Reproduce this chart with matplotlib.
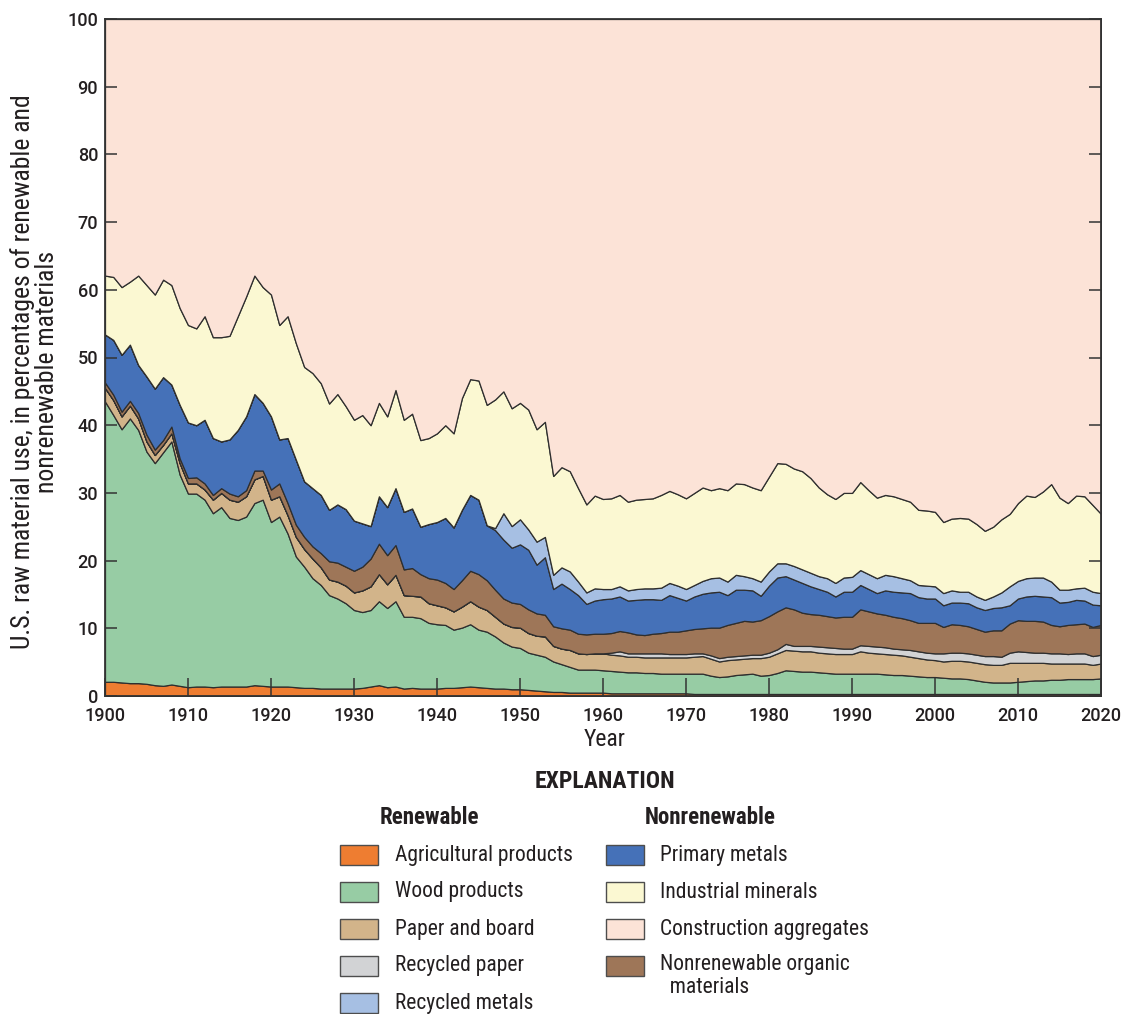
import numpy as np
import matplotlib
matplotlib.use("Agg")
import matplotlib.pyplot as plt
from matplotlib.patches import Rectangle

plt.rcParams['font.family'] = ['Roboto Condensed', 'Liberation Sans', 'DejaVu Sans']

years = np.arange(1900, 2021)

# shares of total raw material use, percent
agricultural = [
    2.1, 2.1, 2.0, 1.9, 1.9, 1.8, 1.6, 1.5, 1.7, 1.5, 1.3, 1.4, 1.4, 1.3, 1.4, 1.4, 1.4, 1.4, 1.6, 1.5,
    1.4, 1.4, 1.4, 1.3, 1.2, 1.2, 1.1, 1.1, 1.1, 1.1, 1.1, 1.2, 1.4, 1.6, 1.3, 1.4, 1.1, 1.2, 1.1, 1.1,
    1.1, 1.2, 1.2, 1.3, 1.4, 1.3, 1.2, 1.1, 1.1, 1.0, 1.0, 0.9, 0.8, 0.7, 0.6, 0.6, 0.5, 0.5, 0.5, 0.5,
    0.5, 0.4, 0.4, 0.4, 0.4, 0.4, 0.4, 0.4, 0.4, 0.4, 0.4, 0.3, 0.3, 0.3, 0.3, 0.3, 0.3, 0.3, 0.3, 0.3,
    0.3, 0.3, 0.3, 0.3, 0.3, 0.3, 0.3, 0.3, 0.3, 0.3, 0.3, 0.3, 0.3, 0.3, 0.3, 0.3, 0.3, 0.3, 0.3, 0.3,
    0.3, 0.3, 0.3, 0.3, 0.3, 0.3, 0.3, 0.3, 0.3, 0.3, 0.3, 0.3, 0.3, 0.3, 0.3, 0.3, 0.3, 0.3, 0.3, 0.3,
    0.3]
wood = [
    41.4, 39.4, 37.4, 39.1, 37.4, 34.3, 32.8, 34.5, 35.9, 31.2, 28.6, 28.5, 27.6, 25.7, 26.5, 24.9, 24.6, 25.1, 26.9, 27.5,
    24.3, 25.1, 22.6, 19.3, 17.9, 16.2, 15.3, 13.8, 13.3, 12.6, 11.6, 11.2, 11.3, 12.4, 11.7, 12.6, 10.6, 10.5, 10.4, 9.7,
    9.5, 9.3, 8.6, 8.8, 9.2, 8.5, 8.3, 7.7, 6.8, 6.3, 6.1, 5.5, 5.3, 5.1, 4.5, 4.1, 3.8, 3.4, 3.4, 3.4,
    3.3, 3.3, 3.2, 3.1, 3.1, 3.0, 3.0, 2.9, 2.9, 2.9, 2.9, 3.0, 3.0, 2.7, 2.5, 2.6, 2.8, 2.9, 3.0, 2.7,
    2.8, 3.1, 3.5, 3.4, 3.3, 3.3, 3.2, 3.1, 3.0, 3.0, 3.0, 3.0, 3.0, 3.0, 2.9, 2.8, 2.8, 2.7, 2.6, 2.5,
    2.5, 2.4, 2.3, 2.3, 2.2, 2.0, 1.8, 1.7, 1.7, 1.7, 1.8, 1.9, 2.0, 2.0, 2.1, 2.1, 2.2, 2.2, 2.2, 2.2,
    2.3]
paper_board = [
    2.0, 2.2, 1.9, 1.9, 1.7, 1.5, 1.2, 1.1, 1.2, 1.7, 1.5, 1.5, 1.5, 2.0, 2.1, 2.7, 2.7, 3.0, 3.5, 3.5,
    3.3, 3.0, 2.7, 2.9, 2.6, 2.9, 2.6, 2.3, 2.5, 2.6, 2.6, 3.2, 3.5, 4.0, 3.5, 3.9, 3.2, 3.1, 3.2, 2.9,
    2.8, 2.6, 2.7, 3.1, 3.4, 3.4, 3.2, 2.9, 2.8, 2.9, 3.0, 2.9, 2.8, 3.0, 2.3, 2.3, 2.5, 2.4, 2.3, 2.4,
    2.5, 2.4, 2.4, 2.3, 2.3, 2.3, 2.3, 2.4, 2.4, 2.4, 2.4, 2.5, 2.6, 2.5, 2.3, 2.4, 2.3, 2.3, 2.3, 2.6,
    2.7, 2.9, 3.0, 3.0, 3.0, 3.0, 2.9, 2.9, 2.9, 2.9, 2.9, 3.3, 3.1, 3.0, 3.0, 3.0, 2.9, 2.8, 2.7, 2.6,
    2.5, 2.4, 2.6, 2.6, 2.6, 2.6, 2.6, 2.6, 2.6, 2.9, 2.8, 2.7, 2.6, 2.6, 2.4, 2.4, 2.3, 2.3, 2.3, 2.1,
    2.2]
recycled_paper = [0.0] * 61 + [
    0.3, 0.6, 0.5, 0.5, 0.6, 0.6, 0.6, 0.5, 0.5, 0.5, 0.5, 0.4, 0.5, 0.5, 0.5, 0.5, 0.5, 0.5, 0.5,
    0.6, 0.6, 0.9, 0.7, 0.8, 0.8, 0.9, 0.9, 0.9, 0.8, 0.8, 0.9, 1.0, 1.0, 1.0, 0.9, 0.9, 1.0, 1.0, 1.0,
    1.0, 1.2, 1.2, 1.2, 1.2, 1.2, 1.2, 1.3, 1.2, 1.5, 1.7, 1.6, 1.5, 1.5, 1.5, 1.5, 1.4, 1.5, 1.5, 1.3,
    1.3]
nonrenewable_organic = [
    0.8, 0.8, 0.7, 0.7, 0.8, 1.0, 0.8, 0.7, 1.0, 0.7, 0.8, 0.9, 0.9, 0.7, 0.7, 0.9, 0.8, 0.9, 1.3, 0.8,
    1.5, 1.9, 1.8, 1.8, 1.8, 1.8, 2.1, 2.7, 2.8, 2.8, 3.2, 3.5, 4.1, 4.5, 4.3, 4.4, 3.8, 4.1, 3.3, 3.7,
    3.8, 3.6, 3.3, 3.9, 4.5, 4.8, 4.4, 4.0, 3.7, 3.6, 3.5, 3.5, 3.3, 3.2, 2.9, 3.0, 3.0, 2.9, 2.9, 2.9,
    2.9, 2.9, 3.0, 3.1, 2.8, 2.7, 2.9, 3.0, 3.3, 3.3, 3.5, 3.6, 3.7, 4.1, 4.5, 4.7, 4.9, 5.1, 4.9, 5.1,
    5.4, 5.6, 5.4, 5.4, 4.9, 4.7, 4.7, 4.6, 4.5, 4.7, 4.7, 5.3, 5.1, 4.9, 4.8, 4.7, 4.6, 4.4, 4.2, 4.4,
    4.5, 3.9, 4.2, 4.1, 4.0, 3.8, 3.6, 3.8, 3.9, 4.3, 4.6, 4.6, 4.7, 4.6, 4.2, 4.0, 4.3, 4.3, 4.4, 4.3,
    4.4]
primary_metals = [
    7.1, 8.1, 8.4, 8.3, 7.1, 8.6, 9.0, 9.3, 6.2, 7.9, 8.2, 7.7, 9.4, 8.4, 6.9, 8.0, 9.8, 10.9, 11.3, 10.0,
    10.8, 6.5, 9.6, 9.6, 8.2, 8.6, 8.6, 7.6, 8.6, 8.5, 7.4, 6.4, 4.8, 7.0, 7.1, 8.4, 8.5, 8.8, 7.0, 8.0,
    8.5, 9.6, 9.1, 10.4, 11.2, 11.0, 8.1, 8.8, 8.7, 8.1, 8.8, 8.8, 7.2, 8.5, 5.5, 6.6, 6.0, 5.7, 4.5, 4.9,
    5.1, 5.1, 5.1, 4.7, 5.1, 5.3, 5.1, 4.9, 5.4, 5.0, 4.4, 4.8, 5.1, 5.2, 5.3, 4.4, 4.9, 4.6, 4.6, 3.6,
    4.5, 5.0, 4.6, 4.4, 4.4, 4.1, 3.8, 3.6, 3.1, 3.7, 3.7, 3.6, 3.3, 3.0, 3.6, 3.7, 3.8, 4.0, 3.8, 3.6,
    3.6, 3.2, 3.2, 3.3, 3.4, 3.2, 3.2, 3.3, 3.4, 2.7, 3.2, 3.6, 3.7, 3.7, 4.1, 3.5, 3.4, 3.6, 3.4, 3.3,
    2.9]
recycled_metals = [0.0] * 47 + [
    0.3, 3.9, 3.2, 3.7, 3.0, 3.4, 3.0, 2.1, 2.4, 2.6, 2.0, 1.7, 1.8,
    1.5, 1.4, 1.5, 1.5, 1.6, 1.6, 1.6, 1.8, 1.8, 1.8, 1.7, 1.7, 1.9, 2.1, 2.1, 2.0, 2.2, 2.0, 1.8, 2.1,
    2.1, 2.1, 1.9, 2.0, 2.0, 2.0, 1.9, 2.0, 2.0, 2.1, 2.2, 2.2, 2.2, 2.2, 2.3, 2.3, 2.1, 1.9, 1.8, 1.9,
    1.8, 1.8, 1.8, 1.6, 1.7, 1.6, 1.5, 1.7, 2.2, 2.8, 2.6, 2.7, 2.7, 2.8, 2.3, 1.9, 1.8, 1.7, 1.9, 1.9,
    1.8]
industrial_minerals = [
    8.7, 9.3, 10.0, 9.3, 13.2, 13.5, 13.9, 14.4, 14.7, 14.3, 14.4, 14.3, 15.3, 14.9, 15.4, 15.3, 16.8, 17.7, 17.5, 17.1,
    18.0, 16.9, 18.0, 17.2, 16.9, 17.0, 16.5, 15.7, 16.3, 15.2, 14.9, 16.0, 14.9, 13.8, 13.4, 14.5, 13.6, 14.0, 12.8, 12.7,
    13.1, 13.7, 13.9, 16.5, 17.1, 17.6, 17.8, 19.0, 18.0, 17.4, 17.2, 17.7, 16.6, 17.0, 14.6, 14.8, 14.8, 13.8, 13.0, 13.7,
    13.3, 13.4, 13.5, 13.1, 13.2, 13.2, 13.3, 13.7, 13.6, 13.5, 13.4, 13.6, 13.8, 13.0, 13.2, 13.5, 13.5, 13.6, 13.4, 13.5,
    14.0, 14.8, 14.7, 14.4, 14.5, 14.0, 13.1, 12.4, 12.4, 12.5, 12.4, 13.0, 12.4, 11.9, 11.8, 11.8, 11.7, 11.6, 11.1, 11.1,
    11.0, 10.5, 10.6, 10.9, 10.8, 10.7, 10.2, 10.3, 10.8, 10.7, 11.5, 12.2, 11.9, 12.7, 14.4, 13.6, 12.8, 13.7, 13.5, 12.8,
    11.7]
construction_aggregates = [
    37.9, 38.1, 39.6, 38.8, 37.9, 39.3, 40.7, 38.5, 39.3, 42.7, 45.2, 45.7, 43.9, 47.0, 47.0, 46.8, 43.9, 41.0, 37.9, 39.6,
    40.7, 45.2, 43.9, 47.9, 51.4, 52.3, 53.8, 56.8, 55.4, 57.2, 59.2, 58.5, 60.0, 56.7, 58.7, 54.8, 59.2, 58.3, 62.2, 61.9,
    61.2, 60.0, 61.2, 56.0, 53.2, 53.4, 57.0, 56.2, 55.0, 57.5, 56.7, 57.7, 60.6, 59.5, 67.5, 66.2, 66.8, 69.3, 71.7, 70.4,
    70.9, 70.8, 70.3, 71.3, 71.0, 70.9, 70.8, 70.3, 69.7, 70.2, 70.8, 70.0, 69.2, 69.6, 69.3, 69.6, 68.6, 68.7, 69.2, 69.6,
    67.6, 65.6, 65.7, 66.4, 66.8, 67.8, 69.2, 70.2, 70.9, 70.0, 70.0, 68.4, 69.6, 70.7, 70.3, 70.5, 70.9, 71.3, 72.5, 72.6,
    72.8, 74.3, 73.8, 73.7, 73.8, 74.6, 75.6, 75.0, 73.9, 73.1, 71.5, 70.4, 70.6, 69.8, 68.7, 70.7, 71.5, 70.4, 70.5, 71.8,
    73.1]

# stacking order, bottom to top
stack = [
    ('Agricultural products', agricultural, '#ee7d31'),
    ('Wood products', wood, '#97cca4'),
    ('Paper and board', paper_board, '#d2b48a'),
    ('Recycled paper', recycled_paper, '#d2d3d5'),
    ('Nonrenewable organic\n  materials', nonrenewable_organic, '#9e7658'),
    ('Primary metals', primary_metals, '#4571b8'),
    ('Recycled metals', recycled_metals, '#a6bfe3'),
    ('Industrial minerals', industrial_minerals, '#fbf8d2'),
    ('Construction aggregates', construction_aggregates, '#fce3d7'),
]
colors = {name: c for name, _, c in stack}

W, H = 1123, 1014
fig = plt.figure(figsize=(W / 100, H / 100), dpi=100)
ax = fig.add_axes([105 / W, 1 - 696 / H, 996 / W, 677 / H])

ax.stackplot(years, *[np.array(v) for _, v, _ in stack],
             colors=[c for _, _, c in stack], edgecolor='#2e2e2e', linewidth=0.9)

ax.set_xlim(1900, 2020)
ax.set_ylim(0, 100)
ax.set_xticks(range(1900, 2021, 10))
ax.set_yticks(range(0, 101, 10))
for lab in ax.get_xticklabels() + ax.get_yticklabels():
    lab.set_fontfamily(['Roboto', 'Liberation Sans', 'DejaVu Sans'])
    lab.set_fontweight('medium')
    lab.set_fontsize(13)
    lab.set_color('#231f20')
ax.tick_params(axis='x', direction='in', length=13, width=1.1, color='#333333', pad=8)
ax.tick_params(axis='y', direction='in', length=8.5, width=1.1, color='#333333',
               right=True, pad=5)
for sp in ax.spines.values():
    sp.set_linewidth(1.3)
    sp.set_color('#333333')
    sp.set_zorder(5)

fig.text(35 / W, 1 - 372 / H,
         'U.S. raw material use, in percentages of renewable and\nnonrenewable materials',
         rotation=90, ha='center', va='center', ma='center', fontsize=18.5,
         linespacing=1.0, color='#231f20')
fig.text(605 / W, 1 - 740 / H, 'Year', ha='center', va='center', fontsize=17, color='#231f20')

# explanation block
fig.text(605 / W, 1 - 781 / H, 'EXPLANATION', ha='center', va='center',
         fontsize=17, fontweight='bold', color='#231f20')
fig.text(429 / W, 1 - 818 / H, 'Renewable', ha='center', va='center',
         fontsize=16.5, fontweight='bold', color='#231f20')
fig.text(710 / W, 1 - 818 / H, 'Nonrenewable', ha='center', va='center',
         fontsize=16.5, fontweight='bold', color='#231f20')

renewable = ['Agricultural products', 'Wood products', 'Paper and board',
             'Recycled paper', 'Recycled metals']
nonrenewable = ['Primary metals', 'Industrial minerals', 'Construction aggregates',
                'Nonrenewable organic\n  materials']
row_y = [855, 892, 929, 966, 1003]


def key_entry(x_box, x_text, yc, name):
    fig.add_artist(Rectangle((x_box / W, 1 - (yc + 10) / H), 38 / W, 20 / H,
                             transform=fig.transFigure, facecolor=colors[name],
                             edgecolor='#4d4d4d', linewidth=1.0))
    va = 'top' if '\n' in name else 'center'
    ty = yc - 12 if '\n' in name else yc
    fig.text(x_text / W, 1 - ty / H, name, ha='left', va=va, fontsize=15.5,
             linespacing=1.1, color='#231f20')


for name, yc in zip(renewable, row_y):
    key_entry(340, 395, yc, name)
for name, yc in zip(nonrenewable, row_y):
    key_entry(606, 660, yc, name)

fig.savefig('out.png', dpi=100)
